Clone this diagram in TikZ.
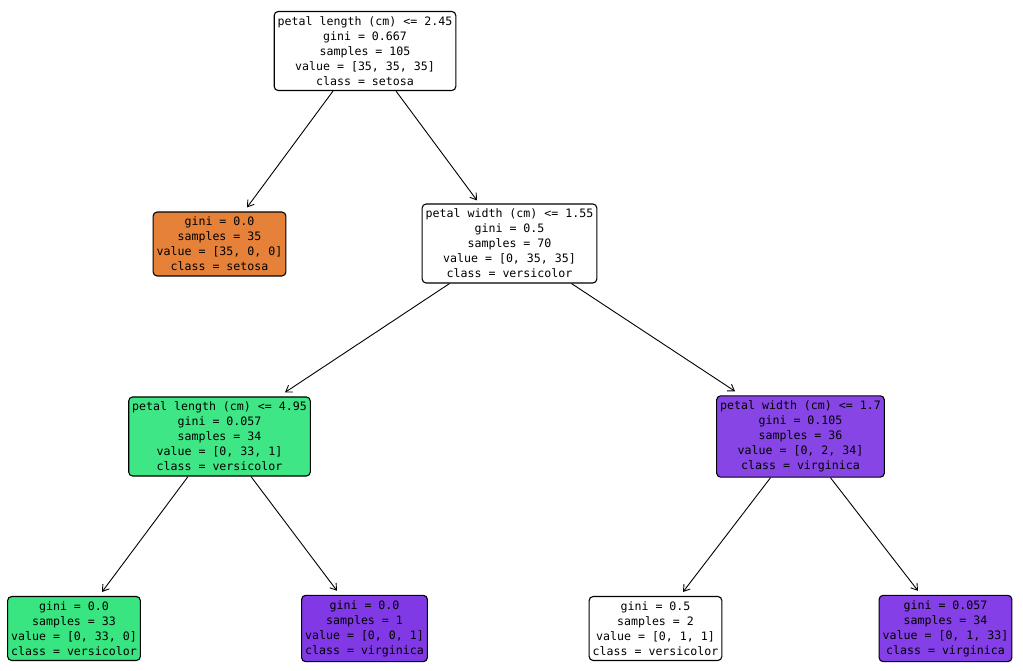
\documentclass[tikz,border=0pt]{standalone}
\usepackage{fontspec}
\setmonofont{DejaVu Sans Mono}
\usetikzlibrary{arrows.meta}
\definecolor{cOrange}{HTML}{E58139}
\definecolor{cGreen}{HTML}{39E581}
\definecolor{cGreenB}{HTML}{3FE685}
\definecolor{cPurple}{HTML}{8139E5}
\definecolor{cPurpleB}{HTML}{8845E6}
\definecolor{cPurpleC}{HTML}{853FE6}
\tikzset{
  tnode/.style={draw=black, line width=1.1pt, rounded corners=4pt, align=center,
    inner xsep=3.5pt, inner ysep=5pt, fill=white,
    font=\fontsize{11.6pt}{15pt}\selectfont\ttfamily},
  edge/.style={line width=0.9pt, -{Straight Barb[length=6pt,width=8pt]}}
}
\begin{document}
\begin{tikzpicture}[x=1pt,y=1pt]
\useasboundingbox (0,0) rectangle (1023,-671);
\fill[white] (0,0) rectangle (1023,-671);
\node[tnode] (root) at (365,-51) {petal length (cm) <= 2.45\\gini = 0.667\\samples = 105\\value = [35, 35, 35]\\class = setosa};
\node[tnode, fill=cOrange] (n1) at (219.5,-244) {gini = 0.0\\samples = 35\\value = [35, 0, 0]\\class = setosa};
\node[tnode] (n2) at (509.5,-243.5) {petal width (cm) <= 1.55\\gini = 0.5\\samples = 70\\value = [0, 35, 35]\\class = versicolor};
\node[tnode, fill=cGreenB] (n3) at (219.5,-436.5) {petal length (cm) <= 4.95\\gini = 0.057\\samples = 34\\value = [0, 33, 1]\\class = versicolor};
\node[tnode, fill=cPurpleB] (n4) at (800.5,-436.5) {petal width (cm) <= 1.7\\gini = 0.105\\samples = 36\\value = [0, 2, 34]\\class = virginica};
\node[tnode, fill=cGreen] (n5) at (74,-628.5) {gini = 0.0\\samples = 33\\value = [0, 33, 0]\\class = versicolor};
\node[tnode, fill=cPurple] (n6) at (364.5,-628.5) {gini = 0.0\\samples = 1\\value = [0, 0, 1]\\class = virginica};
\node[tnode] (n7) at (655.5,-628.5) {gini = 0.5\\samples = 2\\value = [0, 1, 1]\\class = versicolor};
\node[tnode, fill=cPurpleC] (n8) at (945.5,-628.5) {gini = 0.057\\samples = 34\\value = [0, 1, 33]\\class = virginica};

\draw[edge] ([xshift=-32pt]root.south) -- ([xshift=27.5pt,yshift=4pt]n1.north);
\draw[edge] ([xshift=31pt]root.south) -- ([xshift=-32.5pt,yshift=3pt]n2.north);
\draw[edge] ([xshift=-60pt]n2.south) -- ([xshift=65.5pt,yshift=4pt]n3.north);
\draw[edge] ([xshift=62pt]n2.south) -- ([xshift=-65.5pt,yshift=4pt]n4.north);
\draw[edge] ([xshift=-31.5pt]n3.south) -- ([xshift=28pt,yshift=4pt]n5.north);
\draw[edge] ([xshift=31.5pt]n3.south) -- ([xshift=-27.5pt,yshift=4pt]n6.north);
\draw[edge] ([xshift=-30pt]n4.south) -- ([xshift=27.5pt,yshift=4pt]n7.north);
\draw[edge] ([xshift=30pt]n4.south) -- ([xshift=-27.5pt,yshift=4pt]n8.north);
\end{tikzpicture}
\end{document}
